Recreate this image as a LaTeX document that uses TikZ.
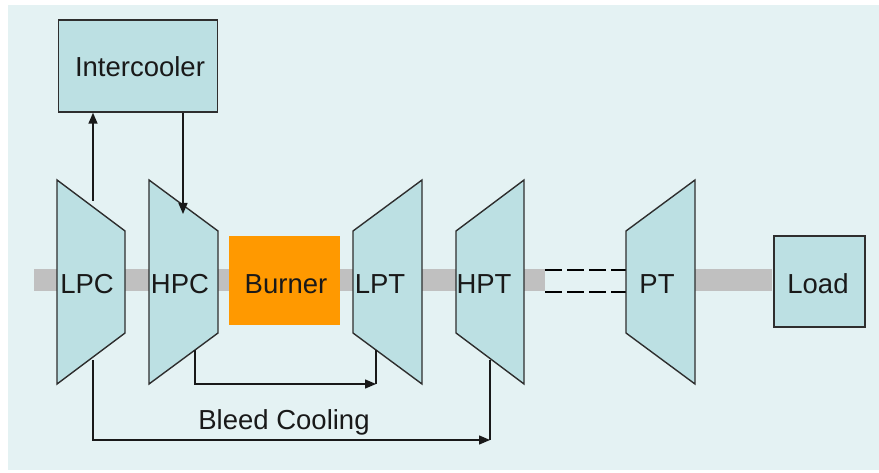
\documentclass[tikz,border=0pt]{standalone}
\usepackage{fontspec}
\setmainfont{Liberation Sans}
\usepackage{tikz}
\usetikzlibrary{arrows.meta,positioning}

\definecolor{bgblue}{HTML}{E4F2F3}
\definecolor{unitfill}{HTML}{BCE0E3}
\definecolor{burnerorange}{HTML}{FF9900}
\definecolor{shaftgray}{HTML}{C0C0C0}
\definecolor{edgegray}{HTML}{2E2E2E}

\begin{document}
\begin{tikzpicture}[x=1pt, y=-1pt,
    every node/.style={font=\fontsize{27.5}{32}\selectfont, text=black!90},
    unit/.style={draw=edgegray, line width=1.4pt, fill=unitfill, line join=miter},
    box/.style={unit, inner sep=0pt},
    flow/.style={draw=black!90, line width=1.4pt, -{Triangle[length=11pt,width=9pt]}},
    lbl/.style={anchor=base}]
  % canvas
  \useasboundingbox (0,0) rectangle (879,473);
  \fill[bgblue] (8,5) rectangle (879,470);
  % shaft
  \fill[shaftgray] (34,269) rectangle (545,291);
  \fill[shaftgray] (695,269) rectangle (772,291);
  \draw[line width=1.4pt, dash pattern=on 17pt off 5pt] (545,270) -- (626,270);
  \draw[line width=1.4pt, dash pattern=on 17pt off 5pt] (545,292) -- (626,292);
  % intercooler
  \node[box, minimum width=159pt, minimum height=92pt] (ic) at (138,66) {};
  \node[lbl] (iclabel) at (140,77) {Intercooler};
  % compressors (wide side left)
  \draw[unit] (57,180) -- (125,231) -- (125,333) -- (57,384) -- cycle;
  \draw[unit] (149,180) -- (218,231) -- (218,333) -- (149,384) -- cycle;
  % burner
  \fill[burnerorange] (229,236) rectangle (340,325);
  % turbines (wide side right)
  \draw[unit] (353,231) -- (422,180) -- (422,384) -- (353,333) -- cycle;
  \draw[unit] (456,231) -- (524,180) -- (524,384) -- (456,333) -- cycle;
  \draw[unit] (626,231) -- (695,180) -- (695,384) -- (626,333) -- cycle;
  % load
  \node[box, minimum width=91pt, minimum height=91pt] (load) at (819.5,281.5) {};
  % labels
  \node[lbl] (lpc) at (87,294) {LPC};
  \node[lbl] (hpc) at (180,294) {HPC};
  \node[lbl] (burner) at (286,294) {Burner};
  \node[lbl] (lpt) at (380,294) {LPT};
  \node[lbl] (hpt) at (484,294) {HPT};
  \node[lbl] (pt) at (657,294) {PT};
  \node[lbl] (loadlabel) at (818,294) {Load};
  \node[lbl] (bleed) at (284,429) {Bleed Cooling};
  % taps on the casings
  \coordinate (lpctop) at (93,201);
  \coordinate (hpctop) at (183,214);
  \coordinate (lpcbot) at (93,360);
  \coordinate (hpcbot) at (195,350);
  \coordinate (lptbot) at (376,350);
  \coordinate (hptbot) at (490,360);
  \coordinate (lptin) at (376,384);
  \coordinate (hptin) at (490,440);
  % intercooling loop
  \draw[flow] (lpctop) -- (lpctop |- ic.south);
  \draw[flow] (hpctop |- ic.south) -- (hpctop);
  % bleed cooling
  \draw[flow] (hpcbot) |- (lptin);
  \draw[line width=1.4pt, black!90] (lptin) -- (lptbot);
  \draw[flow] (lpcbot) |- (hptin);
  \draw[line width=1.4pt, black!90] (hptin) -- (hptbot);
\end{tikzpicture}
\end{document}
